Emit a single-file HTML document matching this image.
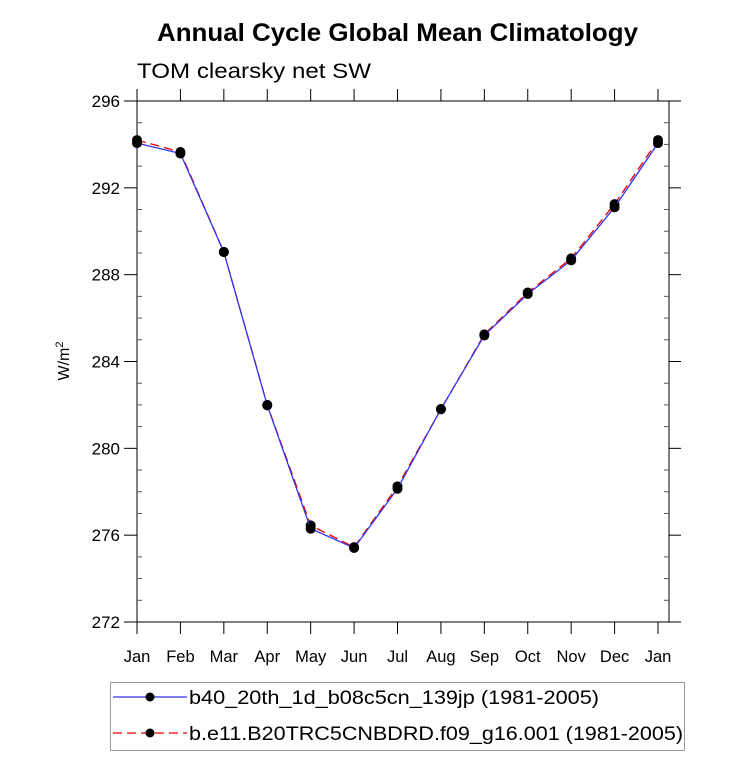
<!DOCTYPE html>
<html><head><meta charset="utf-8"><style>
body{margin:0;background:#fff;font-family:"Liberation Sans",sans-serif}
</style></head><body>
<svg id="chart" width="733" height="772" xmlns="http://www.w3.org/2000/svg" font-family="Liberation Sans, sans-serif">
<text x="157" y="41" font-size="25" font-weight="bold" textLength="481" lengthAdjust="spacingAndGlyphs">Annual Cycle Global Mean Climatology</text>
<text x="137" y="78" font-size="21" textLength="234" lengthAdjust="spacingAndGlyphs">TOM clearsky net SW</text>
<text transform="translate(69,361) rotate(-90)" text-anchor="middle" font-size="16">W/m<tspan font-size="11" dy="-6">2</tspan></text>
<g id="axes"></g>
<g id="series"></g>
<g>
<rect x="110.5" y="682.5" width="574" height="68" fill="none" stroke="#999" stroke-width="1"/>
<line x1="113" y1="697" x2="187" y2="697" stroke="#3333ee" stroke-width="1.3"/>
<circle cx="150" cy="697" r="4.5" fill="#000"/>
<text x="189" y="704" font-size="19" textLength="410" lengthAdjust="spacingAndGlyphs">b40_20th_1d_b08c5cn_139jp (1981-2005)</text>
<line x1="113" y1="733" x2="187" y2="733" stroke="#ee0000" stroke-width="1.3" stroke-dasharray="9,5"/>
<circle cx="150" cy="733" r="4.5" fill="#000"/>
<text x="189" y="740" font-size="19" textLength="494" lengthAdjust="spacingAndGlyphs">b.e11.B20TRC5CNBDRD.f09_g16.001 (1981-2005)</text>
</g>
</svg>
<script>
const months = ["Jan","Feb","Mar","Apr","May","Jun","Jul","Aug","Sep","Oct","Nov","Dec","Jan"];
const seriesB40 = [294.06,293.58,289.04,281.98,276.3,275.41,278.14,281.81,285.2,287.11,288.66,291.1,294.06];
const seriesBE11 = [294.2,293.65,289.05,282.0,276.45,275.45,278.25,281.8,285.25,287.18,288.75,291.25,294.2];
const yTicks = [272,276,280,284,288,292,296];
const X0=137,X1=658,Y0=622,Y1=101,YMIN=272,YMAX=296;
const xs=i=>X0+(X1-X0)*i/(months.length-1);
const ys=v=>Y0-(v-YMIN)/(YMAX-YMIN)*(Y0-Y1);
const NS="http://www.w3.org/2000/svg";
const axes=document.getElementById('axes'), ser=document.getElementById('series');
function mk(tag,attrs,parent){const e=document.createElementNS(NS,tag);for(const k in attrs)e.setAttribute(k,attrs[k]);parent.appendChild(e);return e;}
const XR=X1+11;
const frame=mk('rect',{x:X0,y:Y1,width:XR-X0,height:Y0-Y1,fill:'none',stroke:'#000','stroke-width':1},axes);


yTicks.forEach(v=>{const y=ys(v);
mk('line',{x1:X0-13,y1:y,x2:X0,y2:y,stroke:'#000'},axes);
mk('line',{x1:XR,y1:y,x2:XR+12,y2:y,stroke:'#000'},axes);
const t=mk('text',{x:X0-17,y:y+6,'text-anchor':'end','font-size':17},axes);
t.textContent=v;


});
for(let v=YMIN+1;v<YMAX;v++){if(v%4===0)continue;const y=ys(v);
mk('line',{x1:X0,y1:y,x2:X0+5,y2:y,stroke:'#555'},axes);
mk('line',{x1:XR-5,y1:y,x2:XR,y2:y,stroke:'#555'},axes);}
months.forEach((m,i)=>{const x=xs(i);
mk('line',{x1:x,y1:Y0,x2:x,y2:Y0+12,stroke:'#000'},axes);
mk('line',{x1:x,y1:Y1,x2:x,y2:Y1-12,stroke:'#000'},axes);
const t=mk('text',{x:x,y:Y0+40,'text-anchor':'middle','font-size':16.5},axes);
t.textContent=m;


});
function draw(vals,color,dash,name){
const p=mk('polyline',{points:vals.map((v,i)=>xs(i)+','+ys(v)).join(' '),fill:'none',stroke:color,'stroke-width':1.3,'stroke-dasharray':dash},ser);


vals.forEach((v,i)=>{const c=mk('circle',{cx:xs(i),cy:ys(v),r:5,fill:'#000'},ser);

});
}
draw(seriesBE11,'#ee0000','9,5','be11');
draw(seriesB40,'#3333ee','none','b40');
</script>
</body></html>
